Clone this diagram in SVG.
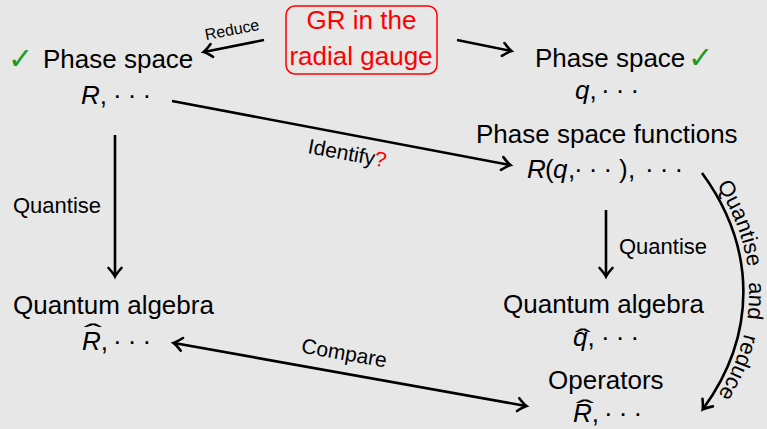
<svg xmlns="http://www.w3.org/2000/svg" width="767" height="429" viewBox="0 0 767 429">
<style>
text { font-family: "Liberation Sans", Arial, sans-serif; fill: #000; }
.lbl { font-size: 26px; }
.sm { font-size: 22px; }
.edge { font-size: 21px; }
.m { font-style: italic; }
.dots { letter-spacing: 6.1px; }
.red { fill: #f00; }
.chk { font-family: "DejaVu Sans", sans-serif; font-size: 30px; fill: #1e9a1e; }
.hat { font-size: 26px; }
.conn { stroke: #000; stroke-width: 2.6; fill: none; }
</style>
<defs>
<marker id="ah" markerUnits="userSpaceOnUse" viewBox="-11 -8 13 16" refX="0" refY="0" markerWidth="13" markerHeight="16" orient="auto-start-reverse" overflow="visible">
<path d="M-8,-6.5 Q-2.5,-1.5 0.5,0 Q-2.5,1.5 -8,6.5" fill="none" stroke="#000" stroke-width="2.6" stroke-linecap="round"/>
</marker>
<path id="qrpath" d="M708,173 C763,248 763,335 708,410"/>
</defs>
<rect width="767" height="429" fill="#e7e7e7"/>

<g id="connectors">
<line class="conn" x1="264" y1="40" x2="204" y2="52" marker-end="url(#ah)"/>
<line class="conn" x1="457" y1="40" x2="511" y2="51" marker-end="url(#ah)"/>
<line class="conn" x1="172" y1="101" x2="510" y2="165" marker-end="url(#ah)"/>
<line class="conn" x1="115" y1="135" x2="115" y2="276" marker-end="url(#ah)"/>
<line class="conn" x1="606" y1="210" x2="606" y2="276" marker-end="url(#ah)"/>
<line class="conn" x1="174" y1="343" x2="526" y2="406" marker-start="url(#ah)" marker-end="url(#ah)"/>
<path class="conn" d="M702,173 C757,248 757,335 703,409" marker-end="url(#ah)"/>
<text style="font-size:16px" text-anchor="middle" transform="translate(233,35) rotate(-11)">Reduce</text>
<text class="edge" transform="translate(307,153) rotate(10.5)">Identify<tspan class="red">?</tspan></text>
<text class="sm" x="13" y="213">Quantise</text>
<text class="sm" x="619" y="254">Quantise</text>
<text class="edge" text-anchor="middle" transform="translate(343,360) rotate(10)">Compare</text>
<text style="font-size:22px" word-spacing="9"><textPath href="#qrpath" startOffset="15">Quantise and reduce</textPath></text>
</g>

<g id="gr-radial">
<rect x="286" y="6" width="151" height="68" rx="9" fill="none" stroke="#f00" stroke-width="1.5"/>
<text class="lbl red" x="361.5" y="29" text-anchor="middle">GR in the</text>
<text class="lbl red" x="361" y="65" text-anchor="middle">radial gauge</text>
</g>

<g id="phase-left">
<text class="chk" x="8" y="69">✓</text>
<text class="lbl" x="43" y="68">Phase space</text>
<text class="lbl" x="81" y="104"><tspan class="m">R</tspan>,<tspan class="dots" x="113">···</tspan></text>
</g>

<g id="phase-right">
<text class="lbl" x="535" y="67">Phase space</text>
<text class="chk" x="688" y="68">✓</text>
<text class="lbl" x="575" y="99"><tspan class="m">q</tspan>,<tspan class="dots" x="601">···</tspan></text>
</g>

<g id="phase-functions">
<text class="lbl" x="476" y="143">Phase space functions</text>
<text class="lbl" x="527" y="178"><tspan class="m">R</tspan><tspan x="545">(</tspan><tspan class="m" x="553">q</tspan><tspan x="568">,</tspan><tspan class="dots" x="574">···</tspan><tspan x="619">)</tspan><tspan x="628">,</tspan><tspan class="dots" x="645">···</tspan></text>
</g>

<g id="qa-left">
<text class="lbl" x="13" y="314">Quantum algebra</text>
<text class="lbl" x="82" y="350"><tspan class="m">R</tspan>,<tspan class="dots" x="113">···</tspan></text>
<text class="hat" text-anchor="middle" transform="translate(93,342) scale(2.1,1)">ˆ</text>
</g>

<g id="qa-right">
<text class="lbl" x="503" y="313">Quantum algebra</text>
<text class="lbl" x="573" y="346"><tspan class="m">q</tspan>,<tspan class="dots" x="601">···</tspan></text>
<text class="hat" text-anchor="middle" transform="translate(583,347) scale(1.8,1)">ˆ</text>
<text class="lbl" x="548" y="389">Operators</text>
<text class="lbl" x="573" y="422"><tspan class="m">R</tspan>,<tspan class="dots" x="604">···</tspan></text>
<text class="hat" text-anchor="middle" transform="translate(585,418) scale(2.1,1)">ˆ</text>
</g>
</svg>
